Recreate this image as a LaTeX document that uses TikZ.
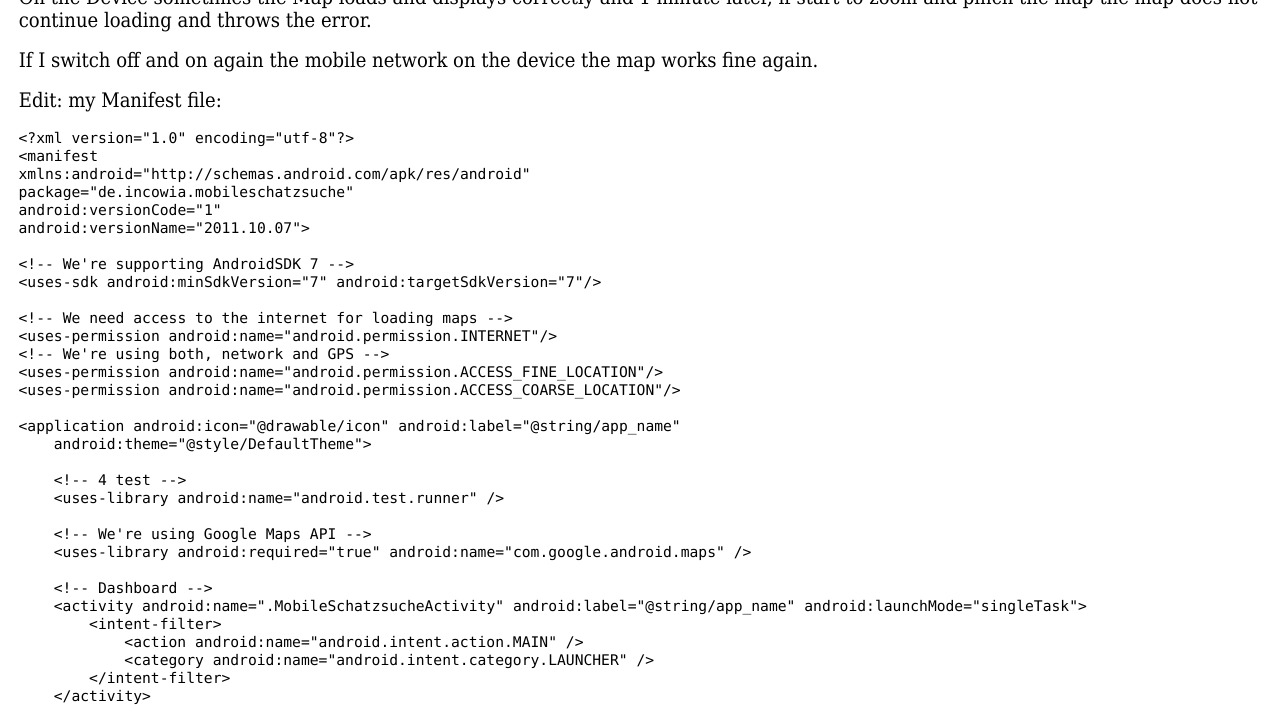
\documentclass[tikz,border=0pt]{standalone}
\usepackage{fontspec}
\setmainfont{DejaVu Serif Condensed}
\setmonofont{DejaVu Sans Mono}
\frenchspacing
\tikzset{
    prose/.style={anchor=base west, inner sep=0pt, font=\rmfamily\fontsize{15.02}{18}\selectfont},
    code/.style={anchor=base west, inner sep=0pt, font=\ttfamily\fontsize{11}{13.5}\selectfont},
}
\begin{document}
\begin{tikzpicture}[x=0.75pt, y=-0.75pt]
    \useasboundingbox (0,0) rectangle (1280,720);

    % text above the listing
    \node[prose] (line1) at (18.6,4.8) {On the Device sometimes the Map loads and displays correctly and 1 minute later, if start to zoom and pinch the map the map does not};
    \node[prose] (line2) at (18.6,27.6) {continue loading and throws the error.};
    \node[prose] (line3) at (18.6,67.6) {If I switch off and on again the mobile network on the device the map works fine again.};
    \node[prose] (line4) at (18.6,107.6) {Edit: my Manifest file:};

    % listing, one row every 18px
    \foreach \row/\ind/\txt in {
        0/0/{<?xml version="1.0" encoding="utf-8"?>},
        1/0/{<manifest},
        2/0/{xmlns:android="http://schemas.android.com/apk/res/android"},
        3/0/{package="de.incowia.mobileschatzsuche"},
        4/0/{android:versionCode="1"},
        5/0/{android:versionName="2011.10.07">},
        7/0/{<!-- We're supporting AndroidSDK 7 -->},
        8/0/{<uses-sdk android:minSdkVersion="7" android:targetSdkVersion="7"/>},
        10/0/{<!-- We need access to the internet for loading maps -->},
        11/0/{<uses-permission android:name="android.permission.INTERNET"/>},
        12/0/{<!-- We're using both, network and GPS -->},
        13/0/{<uses-permission android:name="android.permission.ACCESS_FINE_LOCATION"/>},
        14/0/{<uses-permission android:name="android.permission.ACCESS_COARSE_LOCATION"/>},
        16/0/{<application android:icon="@drawable/icon" android:label="@string/app_name"},
        17/4/{android:theme="@style/DefaultTheme">},
        19/4/{<!-- 4 test -->},
        20/4/{<uses-library android:name="android.test.runner" />},
        22/4/{<!-- We're using Google Maps API -->},
        23/4/{<uses-library android:required="true" android:name="com.google.android.maps" />},
        25/4/{<!-- Dashboard -->},
        26/4/{<activity android:name=".MobileSchatzsucheActivity" android:label="@string/app_name" android:launchMode="singleTask">},
        27/8/{<intent-filter>},
        28/12/{<action android:name="android.intent.action.MAIN" />},
        29/12/{<category android:name="android.intent.category.LAUNCHER" />},
        30/8/{</intent-filter>},
        31/4/{</activity>}}{
        \node[code] (row\row) at ({18.35+8.82*\ind},{143.4+18*\row}) {\detokenize\expandafter{\txt}};
    }
\end{tikzpicture}
\end{document}
